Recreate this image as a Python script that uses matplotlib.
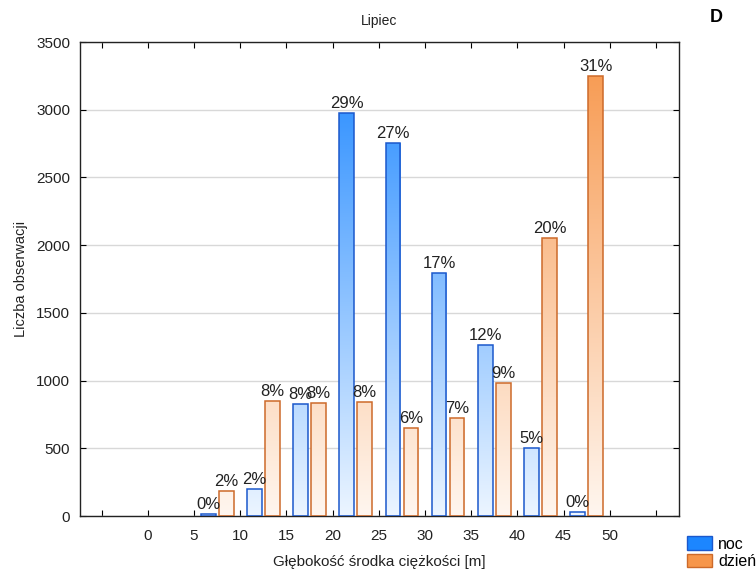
import numpy as np
import matplotlib
matplotlib.use("Agg")
import matplotlib.pyplot as plt
from matplotlib.colors import LinearSegmentedColormap
from matplotlib.patches import Rectangle

plt.rcParams['font.family'] = ['Liberation Sans', 'DejaVu Sans']

# Depth classes (lower edge of each 5 m bin) and counts per bin
bin_starts = [5, 10, 15, 20, 25, 30, 35, 40, 45]
noc = [12, 199, 825, 2973, 2757, 1792, 1263, 504, 32]
dzien = [187, 849, 832, 839, 650, 721, 984, 2053, 3249]
noc_labels = ["0%", "2%", "8%", "29%", "27%", "17%", "12%", "5%", "0%"]
dzien_labels = ["2%", "8%", "8%", "8%", "6%", "7%", "9%", "20%", "31%"]
x_ticks = list(range(-5, 60, 5))
x_ticklabels = ["" if t < 0 or t > 50 else str(t) for t in x_ticks]
y_ticks = list(range(0, 3501, 500))

fig = plt.figure(figsize=(7.56, 5.70), dpi=100)
ax = fig.add_axes([80 / 756, 54 / 570, 599 / 756, 474 / 570])

blue_cmap = LinearSegmentedColormap.from_list("noc", ["#ECF5FF", "#1C86FF"])
orange_cmap = LinearSegmentedColormap.from_list("dzien", ["#FFF6EF", "#F7964A"])
grad = np.linspace(0, 1, 256).reshape(-1, 1)

bar_w = 1.6
gap = 0.35


def gradient_bar(x0, h, cmap, edge):
    rect = Rectangle((x0, 0), bar_w, h, facecolor="none", edgecolor=edge,
                     linewidth=1.1, zorder=3)
    ax.add_patch(rect)
    im = ax.imshow(grad, cmap=cmap, origin="lower", aspect="auto",
                   extent=(x0, x0 + bar_w, 0, 3500), zorder=2,
                   interpolation="bilinear")
    im.set_clip_path(rect)


for b, n, d, nl, dl in zip(bin_starts, noc, dzien, noc_labels, dzien_labels):
    center = b + 2.5
    xn = center - gap / 2 - bar_w
    xd = center + gap / 2
    gradient_bar(xn, n, blue_cmap, "#1B58CC")
    gradient_bar(xd, d, orange_cmap, "#CD6A2A")
    ax.text(xn + bar_w / 2, n + 15, nl, ha="center", va="bottom",
            fontsize=12, color="#222222", zorder=4)
    ax.text(xd + bar_w / 2, d + 15, dl, ha="center", va="bottom",
            fontsize=12, color="#222222", zorder=4)

ax.set_xlim(-7.35, 57.5)
ax.set_ylim(0, 3500)

ax.set_yticks(y_ticks)
ax.set_xticks(x_ticks)
ax.set_xticklabels(x_ticklabels)
ax.grid(axis="y", color="#D8D8D8", linewidth=1.0, zorder=0)
ax.set_axisbelow(True)
ax.tick_params(direction="in", top=True, right=True, length=4, width=0.8,
               labelsize=11, colors="#000000", labelcolor="#222222")
ax.tick_params(axis="x", pad=9)
ax.tick_params(axis="y", pad=7)
for s in ax.spines.values():
    s.set_linewidth(1.0)
    s.set_color("#222222")

ax.set_ylabel("Liczba obserwacji", fontsize=10.5, color="#222222", labelpad=6)
ax.set_xlabel("Głębokość środka ciężkości [m]", fontsize=11, color="#222222",
              labelpad=9)
ax.set_title("Lipiec", fontsize=10, color="#222222", pad=12)
fig.text(710 / 756, 1 - 18 / 570, "D", fontsize=13, fontweight="bold",
         ha="left", va="center")

handles = [Rectangle((0, 0), 1, 1, facecolor="#1C86FF", edgecolor="#1B58CC"),
           Rectangle((0, 0), 1, 1, facecolor="#F7964A", edgecolor="#CD6A2A")]
fig.legend(handles, ["noc", "dzień"], loc="lower left",
           bbox_to_anchor=(687 / 756, 1 / 570), frameon=False, fontsize=11.5,
           handlelength=1.56, handleheight=0.95, handletextpad=0.38,
           labelspacing=0.12, borderaxespad=0, borderpad=0)

fig.savefig("out.png", dpi=100)
